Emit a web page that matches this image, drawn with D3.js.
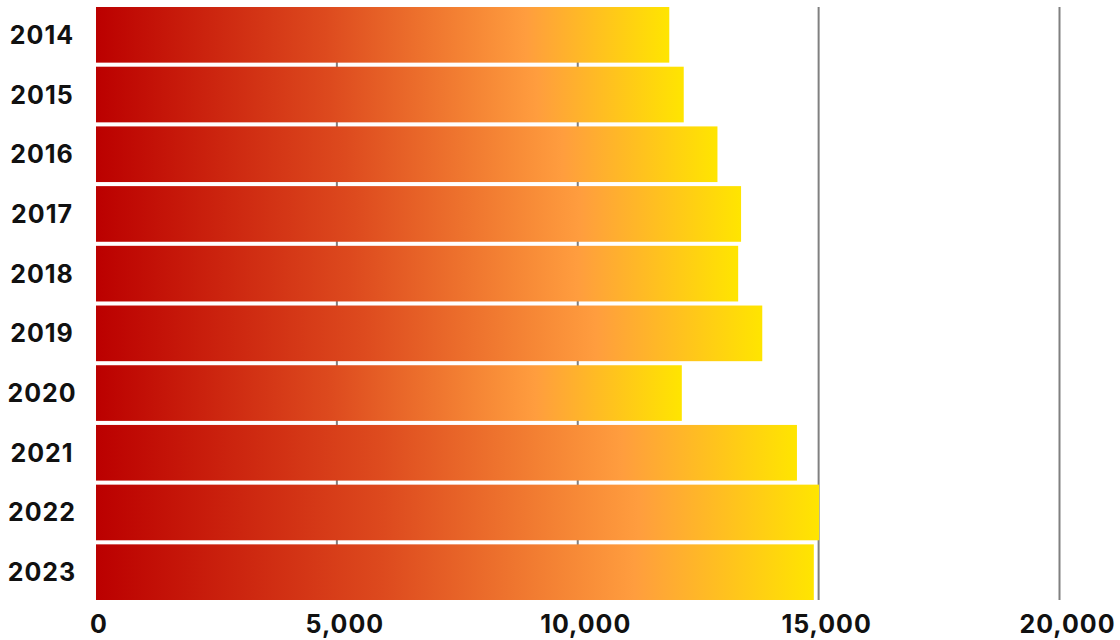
<!DOCTYPE html>
<html>
<head>
<meta charset="utf-8">
<script src="https://cdn.jsdelivr.net/npm/d3@7"></script>
<style>
  html, body { margin: 0; padding: 0; background: #fff; }
  svg text { font-family: Inter, "Open Sans", sans-serif; font-weight: 700; fill: #111; letter-spacing: 1px; }
</style>
</head>
<body>
<svg id="chart" width="1120" height="640"></svg>
<script>
// --- data ---
const years = ["2014", "2015", "2016", "2017", "2018", "2019", "2020", "2021", "2022", "2023"];
const values = [11900, 12200, 12900, 13390, 13330, 13830, 12160, 14550, 15010, 14900];
const ticks = [0, 5000, 10000, 15000, 20000];

const svg = d3.select("#chart");

const x = d3.scaleLinear().domain([0, 20000]).range([96, 1059.5]);
const y = d3.scaleBand().domain(years).range([7, 600]).paddingInner(0.068).paddingOuter(0);

// gradient per bar (objectBoundingBox)
const defs = svg.append("defs");
const grad = defs.append("linearGradient").attr("id", "barGrad")
  .attr("x1", 0).attr("x2", 1).attr("y1", 0).attr("y2", 0);
grad.append("stop").attr("offset", "0%").attr("stop-color", "#bb0000");
grad.append("stop").attr("offset", "40%").attr("stop-color", "#dd4a1e");
grad.append("stop").attr("offset", "75%").attr("stop-color", "#ff9d3e");
grad.append("stop").attr("offset", "100%").attr("stop-color", "#ffe500");

// gridlines (behind bars)
svg.append("g").selectAll("line").data(ticks.slice(1)).join("line")
  .attr("x1", d => x(d)).attr("x2", d => x(d))
  .attr("y1", 7).attr("y2", 600)
  .attr("stroke", "#808080").attr("stroke-width", 2);

// bars
svg.append("g").selectAll("rect").data(years).join("rect")
  .attr("x", x(0))
  .attr("y", d => y(d))
  .attr("width", (d, i) => x(values[i]) - x(0))
  .attr("height", y.bandwidth())
  .attr("fill", "url(#barGrad)");

// year labels
svg.append("g").selectAll("text").data(years).join("text")
  .attr("x", 42)
  .attr("y", d => y(d) + y.bandwidth() / 2)
  .attr("dy", "0.36em")
  .attr("text-anchor", "middle")
  .style("font-size", "25px")
  .text(d => d);

// x tick labels
svg.append("g").selectAll("text").data(ticks).join("text")
  .attr("x", d => x(d) + (d === 0 ? 3 : 8))
  .attr("y", 624)
  .attr("dy", "0.36em")
  .attr("text-anchor", "middle")
  .style("font-size", "25px")
  .text(d => d3.format(",")(d));
</script>
</body>
</html>
